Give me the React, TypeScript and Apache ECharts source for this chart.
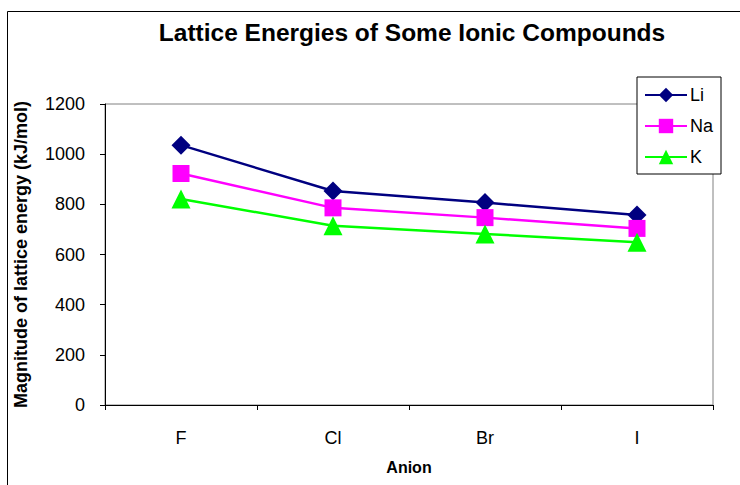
import React, { useEffect, useRef } from "react";
import * as echarts from "echarts";

const anions = ["F", "Cl", "Br", "I"];
const liValues = [1036, 853, 807, 757];
const naValues = [923, 786, 747, 704];
const kValues = [821, 715, 682, 649];
const yTicks = { min: 0, max: 1200, interval: 200 };

const FONT = "'Liberation Sans', Arial, sans-serif";

export default function App() {
  const ref = useRef<HTMLDivElement>(null);
  useEffect(() => {
    if (!ref.current) return;
    const chart = echarts.init(ref.current, null, { renderer: "svg" });
    const mk = (name: string, data: number[], color: string, symbol: string, size: number) => ({
      name,
      type: "line",
      data,
      symbol,
      symbolSize: size,
      itemStyle: { color },
      lineStyle: { color, width: 2.5 },
      z: 3,
    });
    chart.setOption({
      animation: false,
      backgroundColor: "#ffffff",
      textStyle: { fontFamily: FONT },
      title: {
        text: "Lattice Energies of Some Ionic Compounds",
        left: 407,
        textAlign: "center",
        top: 15,
        textStyle: { fontFamily: FONT, fontSize: 24.5, fontWeight: "bold", color: "#000" },
      },
      legend: {
        orient: "vertical",
        left: 637,
        top: 77,
        width: 88,
        padding: [9, 8, 8, 7],
        itemGap: 13,
        itemWidth: 42,
        itemHeight: 18,
        backgroundColor: "#fff",
        borderColor: "#000",
        borderWidth: 1,
        borderRadius: 0,
        z: 10,
        textStyle: { fontFamily: FONT, fontSize: 18, color: "#000", padding: [0, 0, 0, -2] },
        data: ["Li", "Na", "K"],
      },
      grid: {
        left: 105,
        right: 27,
        top: 104,
        bottom: 80,
        show: true,
        borderColor: "#808080",
        borderWidth: 1,
        backgroundColor: "#fff",
        containLabel: false,
      },
      xAxis: {
        type: "category",
        data: anions,
        boundaryGap: true,
        name: "Anion",
        nameLocation: "middle",
        nameGap: 54,
        nameTextStyle: { fontFamily: FONT, fontSize: 16, fontWeight: "bold", color: "#000" },
        axisLine: { lineStyle: { color: "#000", width: 1 } },
        axisTick: { show: true, inside: false, length: 5, alignWithLabel: false, lineStyle: { color: "#000" } },
        axisLabel: { fontFamily: FONT, fontSize: 18, color: "#000", margin: 24 },
        splitLine: { show: false },
      },
      yAxis: {
        type: "value",
        min: yTicks.min,
        max: yTicks.max,
        interval: yTicks.interval,
        name: "Magnitude of lattice energy (kJ/mol)",
        nameLocation: "middle",
        nameGap: 75,
        nameTextStyle: { fontFamily: FONT, fontSize: 18, fontWeight: "bold", color: "#000" },
        axisLine: { show: true, lineStyle: { color: "#000", width: 1 } },
        axisTick: { show: true, inside: false, length: 5, lineStyle: { color: "#000" } },
        axisLabel: {
          fontFamily: FONT,
          fontSize: 18,
          color: "#000",
          margin: 20,
          formatter: (v: number) => String(v),
        },
        splitLine: { show: false },
      },
      graphic: [
        {
          type: "rect",
          shape: { x: 7.5, y: 11.5, width: 760, height: 500 },
          style: { fill: "none", stroke: "#000", lineWidth: 1 },
          z: 100,
          silent: true,
        },
      ],
      series: [
        mk("Li", liValues, "#000080", "diamond", 19),
        mk("Na", naValues, "#FF00FF", "rect", 17),
        mk("K", kValues, "#00FF00", "triangle", 19),
      ],
    });
    return () => chart.dispose();
  }, []);
  return (
    <div
      ref={ref}
      style={{ position: "fixed", left: 0, top: 0, width: 740, height: 485 }}
    />
  );
}
